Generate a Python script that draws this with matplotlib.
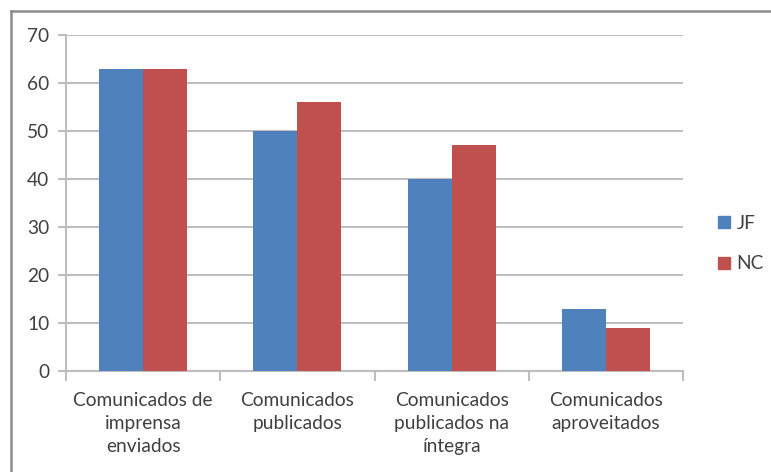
import matplotlib
matplotlib.use("Agg")
import matplotlib.pyplot as plt
import numpy as np
from matplotlib.lines import Line2D
from matplotlib.patches import Patch

categories = ["Comunicados de\nimprensa\nenviados", "Comunicados\npublicados",
              "Comunicados\npublicados na\níntegra", "Comunicados\naproveitados"]
series_names = ["JF", "NC"]
jf_values = [63, 50, 40, 13]
nc_values = [63, 56, 47, 9]
y_ticks = [0, 10, 20, 30, 40, 50, 60, 70]

colors = ["#4F81BD", "#C0504D"]
text_color = "#404040"
grid_color = "#BEBEBE"

plt.rcParams['font.family'] = ['Lato', 'DejaVu Sans']

fig = plt.figure(figsize=(7.71, 4.72), dpi=100)
ax = fig.add_axes([66/771, 1-371/472, (683-66)/771, (371-35)/472])

x = np.arange(len(categories))
w = 0.286
ax.bar(x - w/2, jf_values, w, color=colors[0], zorder=3)
ax.bar(x + w/2, nc_values, w, color=colors[1], zorder=3)

ax.set_xlim(-0.5, len(categories) - 0.5)
ax.set_ylim(0, 70)
ax.set_yticks(y_ticks)
ax.yaxis.grid(True, color=grid_color, lw=1.5, zorder=0)
ax.set_xticks(x)
ax.set_xticklabels(categories, fontsize=13.8, color=text_color, linespacing=1.42)
ax.set_xticks(np.arange(len(categories) + 1) - 0.5, minor=True)
ax.tick_params(axis='x', which='major', length=0, pad=15)
ax.tick_params(axis='x', which='minor', length=7, width=1.5, color=grid_color)
ax.tick_params(axis='y', length=6, width=1.5, color=grid_color, labelsize=13.8,
               labelcolor=text_color, pad=6)
for s in ['top', 'right']:
    ax.spines[s].set_visible(False)
for s in ['left', 'bottom']:
    ax.spines[s].set_color(grid_color)
    ax.spines[s].set_linewidth(1.5)

handles = [Patch(color=c) for c in colors]
fig.legend(handles, series_names, loc='center left', bbox_to_anchor=(701/771, 1-243.5/472),
           frameon=False, fontsize=13.8, handlelength=0.6, handleheight=0.6,
           handletextpad=0.35, labelspacing=1.25, labelcolor=text_color)

bx = 11/771
by = 1 - 11/472
fig.add_artist(Line2D([bx, 1], [by, by], transform=fig.transFigure, color="#8C8C8C", lw=1.8))
fig.add_artist(Line2D([bx, bx], [0, by], transform=fig.transFigure, color="#8C8C8C", lw=1.8))

fig.savefig("out.png", dpi=100)
